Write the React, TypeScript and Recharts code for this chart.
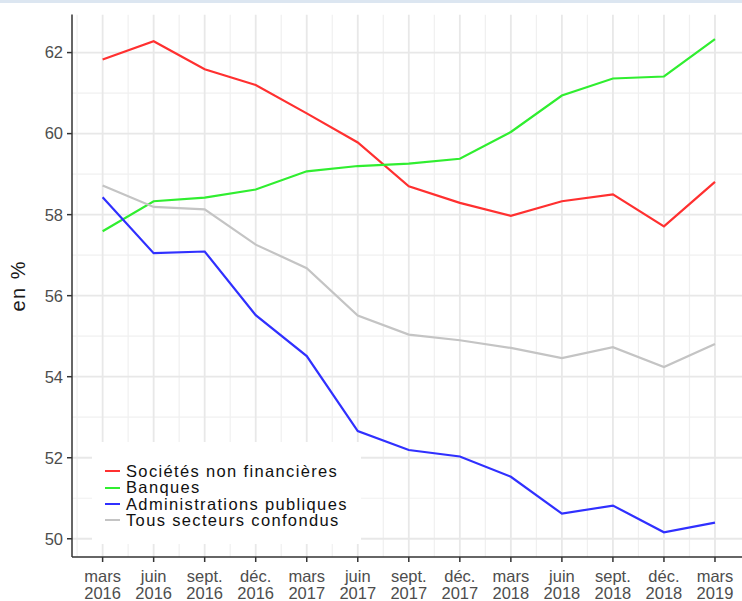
import React from 'react';
import { LineChart, Line, XAxis, YAxis, ReferenceLine, Legend } from 'recharts';

const months = ['mars', 'juin', 'sept.', 'déc.', 'mars', 'juin', 'sept.', 'déc.', 'mars', 'juin', 'sept.', 'déc.', 'mars'];
const years = ['2016', '2016', '2016', '2016', '2017', '2017', '2017', '2017', '2018', '2018', '2018', '2018', '2019'];

const societes = [61.83, 62.28, 61.59, 61.2, 60.5, 59.78, 58.7, 58.29, 57.97, 58.33, 58.5, 57.71, 58.81];
const banques = [57.59, 58.33, 58.42, 58.62, 59.07, 59.2, 59.26, 59.38, 60.04, 60.94, 61.36, 61.41, 62.33];
const administrations = [58.43, 57.05, 57.09, 55.52, 54.51, 52.66, 52.19, 52.03, 51.53, 50.62, 50.82, 50.16, 50.4];
const tous = [58.72, 58.19, 58.13, 57.26, 56.68, 55.51, 55.04, 54.9, 54.71, 54.46, 54.73, 54.24, 54.81];

const seriesNames = ['Sociétés non financières', 'Banques', 'Administrations publiques', 'Tous secteurs confondus'];
const seriesKeys = ['snf', 'banques', 'apu', 'tous'];
const seriesColors = ['#ff3030', '#30ee30', '#3030ff', '#c4c4c4'];

const yTicks = [50, 52, 54, 56, 58, 60, 62];
const yMinor = [51, 53, 55, 57, 59, 61];
const xTicks = months.map((_, i) => i);
const xMinor = [-0.5, 0.5, 1.5, 2.5, 3.5, 4.5, 5.5, 6.5, 7.5, 8.5, 9.5, 10.5, 11.5];

const data = months.map((m, i) => ({
  i,
  snf: societes[i],
  banques: banques[i],
  apu: administrations[i],
  tous: tous[i],
}));

const FONT = '"Liberation Sans", Arial, Helvetica, sans-serif';

const XTick = (props: any) => {
  const { x, y, payload } = props;
  const idx = payload.value;
  return (
    <text x={x} y={y} textAnchor="middle" fill="#4d4d4d" fontSize={16.5} fontFamily={FONT}>
      <tspan x={x} dy={18}>{months[idx]}</tspan>
      <tspan x={x} dy={17.3}>{years[idx]}</tspan>
    </text>
  );
};

const YLabel = (props: any) => {
  const { viewBox } = props;
  const cx = 18;
  const cy = viewBox.y + viewBox.height / 2;
  return (
    <text
      x={cx}
      y={cy}
      transform={`rotate(-90, ${cx}, ${cy})`}
      textAnchor="middle"
      dominantBaseline="central"
      fill="#1a1a1a"
      fontSize={20}
      letterSpacing={1.5}
      fontFamily={FONT}
    >
      en %
    </text>
  );
};

const LegendContent = () => (
  <div
    style={{
      background: '#ffffff',
      width: 269,
      height: 102,
      boxSizing: 'border-box',
      paddingTop: 21,
      paddingLeft: 13,
      fontFamily: FONT,
      fontSize: 16.5,
      letterSpacing: 1.35,
      color: '#111111',
    }}
  >
    {seriesNames.map((name, k) => (
      <div key={name} style={{ display: 'flex', alignItems: 'center', height: 16.4, whiteSpace: 'nowrap' }}>
        <span style={{ display: 'inline-block', width: 15, height: 2, background: seriesColors[k], marginRight: 6 }} />
        <span style={{ lineHeight: '16.4px' }}>{name}</span>
      </div>
    ))}
  </div>
);

export default function App() {
  return (
    <div style={{ position: 'absolute', left: 0, top: 0, width: 742, height: 601, overflow: 'hidden', background: '#ffffff' }}>
      <div style={{ position: 'absolute', left: 0, top: 0, width: 742, height: 3, background: '#dce6f1' }} />
      <LineChart
        width={760}
        height={601}
        data={data}
        margin={{ top: 14.5, right: 14.4, bottom: 0, left: 0 }}
      >
        {yMinor.map((v) => (
          <ReferenceLine key={'ym' + v} y={v} stroke="#f0f0f0" strokeWidth={1.2} ifOverflow="hidden" />
        ))}
        {xMinor.map((v) => (
          <ReferenceLine key={'xm' + v} x={v} stroke="#f0f0f0" strokeWidth={1.2} ifOverflow="hidden" />
        ))}
        {yTicks.map((v) => (
          <ReferenceLine key={'yM' + v} y={v} stroke="#e8e8e8" strokeWidth={1.8} ifOverflow="hidden" />
        ))}
        {xTicks.map((v) => (
          <ReferenceLine key={'xM' + v} x={v} stroke="#e8e8e8" strokeWidth={1.8} ifOverflow="hidden" />
        ))}
        <XAxis
          dataKey="i"
          type="number"
          domain={[-0.6, 12.6]}
          ticks={xTicks}
          allowDataOverflow
          height={44}
          tickSize={5}
          tickMargin={2}
          tick={<XTick />}
          axisLine={{ stroke: '#333333', strokeWidth: 1.5 }}
          tickLine={{ stroke: '#333333', strokeWidth: 1.5 }}
          interval={0}
        />
        <XAxis
          xAxisId="top"
          orientation="top"
          dataKey="i"
          type="number"
          domain={[-0.6, 12.6]}
          height={0}
          tick={false}
          tickLine={false}
          axisLine={{ stroke: '#666666', strokeWidth: 2 }}
        />
        <YAxis
          type="number"
          domain={[49.55, 62.94]}
          ticks={yTicks}
          allowDataOverflow
          width={72}
          tickSize={5}
          tickMargin={4}
          tick={{ fill: '#4d4d4d', fontSize: 16.5, fontFamily: FONT }}
          axisLine={{ stroke: '#333333', strokeWidth: 1.5 }}
          tickLine={{ stroke: '#333333', strokeWidth: 1.5 }}
          label={<YLabel />}
        />
        {seriesKeys.map((k, idx) => (
          <Line
            key={k}
            type="linear"
            dataKey={k}
            name={seriesNames[idx]}
            stroke={seriesColors[idx]}
            strokeWidth={2.2}
            dot={false}
            activeDot={false}
            isAnimationActive={false}
          />
        ))}
        <Legend
          layout="vertical"
          align="center"
          verticalAlign="middle"
          content={<LegendContent />}
          wrapperStyle={{ left: 92, top: 442, width: 269, height: 102 }}
        />
      </LineChart>
    </div>
  );
}
